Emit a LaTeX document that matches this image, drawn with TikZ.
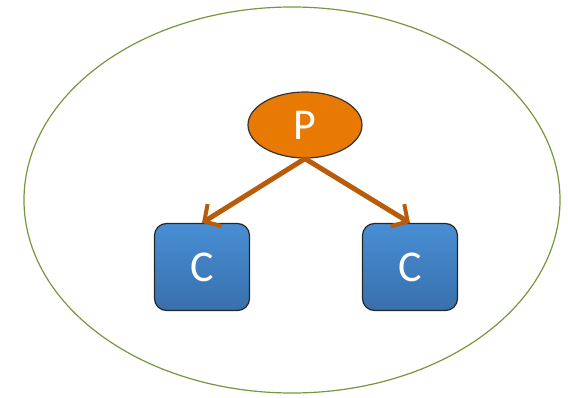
\documentclass[tikz,border=0pt]{standalone}
\usepackage{fontspec}
\setmainfont{Carlito}
\usetikzlibrary{shapes.geometric,arrows.meta}
\definecolor{ringgreen}{RGB}{120,150,60}
\definecolor{porange}{RGB}{232,122,4}
\definecolor{arrowbrown}{RGB}{185,92,10}
\definecolor{boxtop}{RGB}{72,142,212}
\definecolor{boxbot}{RGB}{56,112,172}
\tikzset{
  parent/.style={ellipse, draw=black!80, line width=1.2pt, fill=porange,
    minimum width=114pt, minimum height=66pt, inner sep=0pt,
    text=white, font=\fontsize{44}{44}\selectfont},
  child/.style={rectangle, rounded corners=12pt, draw=black!85, line width=1.2pt,
    top color=boxtop, bottom color=boxbot,
    minimum width=95pt, minimum height=87pt, inner sep=0pt,
    text=white, font=\fontsize{44}{44}\selectfont},
  link/.style={draw=arrowbrown, line width=5pt,
    -{Straight Barb[length=12pt, width=26pt, line width=4pt]}},
}
\begin{document}
\begin{tikzpicture}[x=1pt,y=-1pt]
\useasboundingbox (0,0) rectangle (568,398);
\node[ellipse, draw=ringgreen, line width=1.2pt, minimum width=536pt, minimum height=386pt, inner sep=0pt] (ring) at (292,200) {};
\node[parent] (p) at (305,125) {P};
\node[child] (c1) at (202,267) {C};
\node[child] (c2) at (410,267) {C};
\draw[link] (p.south) -- (c1.north);
\draw[link] (p.south) -- (c2.north);
\end{tikzpicture}
\end{document}
